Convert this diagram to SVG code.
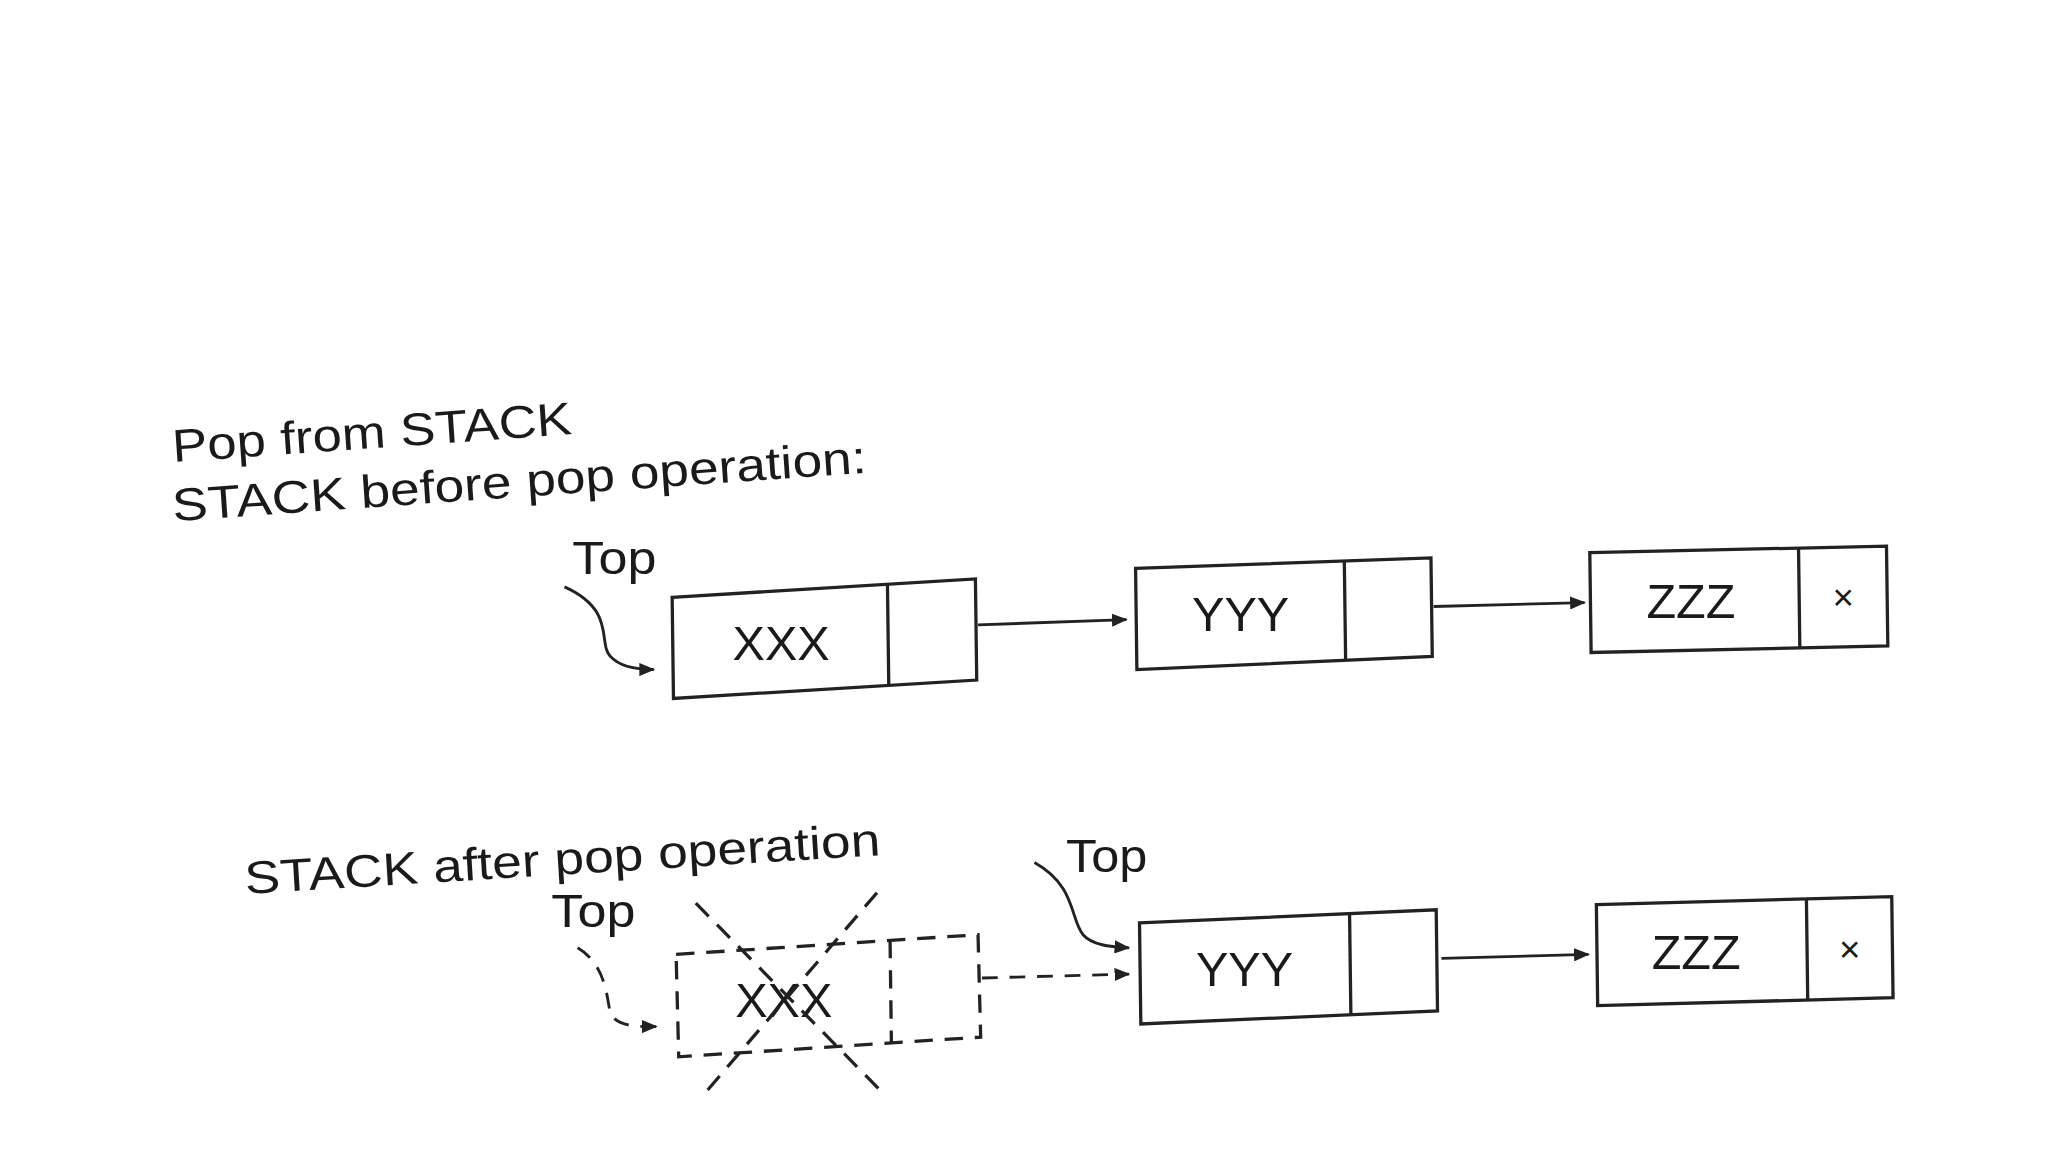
<svg xmlns="http://www.w3.org/2000/svg" width="2048" height="1152" viewBox="0 0 2048 1152">
<style>
.b{fill:none;stroke:#222;stroke-width:2.5}
.d{fill:none;stroke:#222;stroke-width:2.5;stroke-dasharray:14 9}
.t{font-family:"Liberation Sans",Arial,sans-serif;fill:#1a1a1a}
.lbl{font-size:35px}
.n{font-size:37px;text-anchor:middle;dominant-baseline:central}
.c{fill:none;stroke:#222;stroke-width:2.2;marker-end:url(#ah)}
</style>
<defs><marker id="ah" markerWidth="12" markerHeight="10" refX="11" refY="5" orient="auto" markerUnits="userSpaceOnUse"><path d="M0,0 L12,5 L0,10 Z" fill="#222"/></marker></defs>
<rect width="2048" height="1152" fill="#fff"/>
<g transform="scale(1.3128)">
<g id="labels">
<text class="t lbl" x="132" y="352" transform="rotate(-4 132 352)" textLength="305" lengthAdjust="spacingAndGlyphs">Pop from STACK</text>
<text class="t lbl" x="132" y="397" transform="rotate(-4 132 397)" textLength="530" lengthAdjust="spacingAndGlyphs">STACK before pop operation:</text>
<text class="t lbl" x="436" y="437" textLength="64" lengthAdjust="spacingAndGlyphs">Top</text>
<text class="t lbl" x="187" y="681" transform="rotate(-3.5 187 681)" textLength="485" lengthAdjust="spacingAndGlyphs">STACK after pop operation</text>
<text class="t lbl" x="420" y="706" textLength="64" lengthAdjust="spacingAndGlyphs">Top</text>
<text class="t lbl" x="812" y="664" textLength="62" lengthAdjust="spacingAndGlyphs">Top</text>
</g>
<g id="n1"><polygon class="b" points="512,455 743,441 744,518 513,532"/><line class="b" x1="676" y1="445" x2="677" y2="522"/><text class="t n" x="595" y="490">XXX</text></g>
<g id="n2"><polygon class="b" points="865,433 1090,425 1091,500 866,510"/><line class="b" x1="1024" y1="427" x2="1025" y2="503"/><text class="t n" x="945" y="468">YYY</text></g>
<g id="n3"><polygon class="b" points="1211,421 1437,416 1438,492 1212,497"/><line class="b" x1="1370" y1="418" x2="1371" y2="494"/><text class="t n" x="1288" y="458">ZZZ</text><text class="t n" x="1404" y="455" style="font-size:28px">×</text></g>
<g id="n4"><polygon class="d" points="515,727 745,712 747,790 517,805"/><line class="d" x1="678" y1="716" x2="679" y2="795"/><text class="t n" x="597" y="762">XXX</text>
<line class="d" x1="530" y1="688" x2="670" y2="830"/><line class="d" x1="668" y1="680" x2="535" y2="835"/></g>
<g id="n5"><polygon class="b" points="868,703 1094,693 1095,770 869,780"/><line class="b" x1="1028" y1="696" x2="1029" y2="773"/><text class="t n" x="948" y="738">YYY</text></g>
<g id="n6"><polygon class="b" points="1216,689 1441,683 1442,760 1217,766"/><line class="b" x1="1376" y1="685" x2="1377" y2="762"/><text class="t n" x="1292" y="725">ZZZ</text><text class="t n" x="1409" y="723" style="font-size:28px">×</text></g>
<g id="connectors">
<path class="c" d="M430,447 C470,465 455,490 465,500 C472,508 485,510 498,510"/>
<line class="c" x1="745" y1="476" x2="858" y2="472"/>
<line class="c" x1="1092" y1="462" x2="1207" y2="459"/>
<path class="c" stroke-dasharray="12 9" d="M440,722 C462,735 462,760 465,772 C470,782 485,782 500,782"/>
<line class="c" stroke-dasharray="12 9" x1="748" y1="745" x2="860" y2="742"/>
<path class="c" d="M788,657 C820,675 815,700 825,712 C832,720 845,721 860,722"/>
<line class="c" x1="1098" y1="730" x2="1210" y2="727"/>
</g>
</g>
</svg>
